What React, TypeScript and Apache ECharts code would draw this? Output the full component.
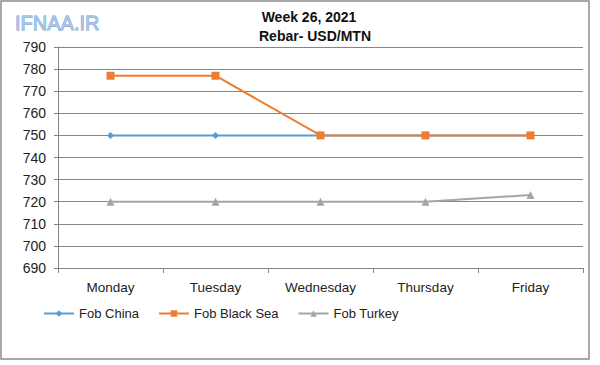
import React, { useEffect, useRef } from "react";
import * as echarts from "echarts";

const categories = ["Monday", "Tuesday", "Wednesday", "Thursday", "Friday"];
const fobChina = [750, 750, 750, 750, 750];
const fobBlackSea = [777, 777, 750, 750, 750];
const fobTurkey = [720, 720, 720, 720, 723];
const seriesNames = ["Fob China", "Fob Black Sea", "Fob Turkey"];
const titleLines = ["Week 26, 2021", "Rebar- USD/MTN"];

const FONT = "'Liberation Sans', Arial, sans-serif";

export default function App() {
  const ref = useRef<HTMLDivElement>(null);
  useEffect(() => {
    if (!ref.current) return;
    const chart = echarts.init(ref.current, null, { renderer: "svg" });
    const mk = (name: string, data: number[], color: string, symbol: string, size: number) => ({
      name,
      type: "line",
      data,
      symbol,
      symbolSize: size,
      lineStyle: { color, width: 2 },
      itemStyle: { color },
      z: 3,
    });
    chart.setOption({
      animation: false,
      backgroundColor: "#ffffff",
      textStyle: { fontFamily: FONT },
      grid: { left: 58, right: 17, top: 47, bottom: 97, containLabel: false },
      legend: {
        left: 38,
        top: 302,
        itemWidth: 30,
        itemHeight: 8,
        itemGap: 19,
        textStyle: { fontSize: 13, color: "#222", fontFamily: FONT },
        data: seriesNames,
      },
      xAxis: {
        type: "category",
        data: categories,
        boundaryGap: true,
        axisLine: { lineStyle: { color: "#868686", width: 1 } },
        axisTick: { show: true, length: 5, alignWithLabel: false, lineStyle: { color: "#868686" } },
        axisLabel: { fontSize: 13.5, color: "#222", margin: 12, fontFamily: FONT },
      },
      yAxis: {
        type: "value",
        min: 690,
        max: 790,
        interval: 10,
        axisLine: { show: true, lineStyle: { color: "#868686", width: 1 } },
        axisTick: { show: true, length: 4, lineStyle: { color: "#868686" } },
        splitLine: { show: true, lineStyle: { color: "#868686", width: 1 } },
        axisLabel: { fontSize: 14, color: "#222", margin: 12, fontFamily: FONT },
      },
      series: [
        mk(seriesNames[0], fobChina, "#5B9BD5", "diamond", 7),
        mk(seriesNames[1], fobBlackSea, "#ED7D31", "rect", 8),
        mk(seriesNames[2], fobTurkey, "#A5A5A5", "triangle", 8),
      ],
      graphic: [
        {
          type: "rect",
          shape: { x: 1, y: 1, width: 588, height: 358 },
          style: { fill: "none", stroke: "#8c8c8c", lineWidth: 1.5 },
          z: 0,
        },
        {
          type: "text",
          x: 15,
          y: 13,
          style: {
            text: "IFNAA.IR",
            font: "20px " + FONT,
            fill: "#a9c6ea",
            stroke: "#6f98cf",
            lineWidth: 0.8,
          },
          z: 10,
        },
        {
          type: "text",
          x: 309,
          y: 17,
          style: {
            text: titleLines[0],
            font: "bold 14px " + FONT,
            fill: "#111",
            align: "center",
            verticalAlign: "middle",
          },
        },
        {
          type: "text",
          x: 315,
          y: 36,
          style: {
            text: titleLines[1],
            font: "bold 14px " + FONT,
            fill: "#111",
            align: "center",
            verticalAlign: "middle",
          },
        },
      ],
    });
    return () => chart.dispose();
  }, []);
  return (
    <div
      ref={ref}
      style={{ position: "fixed", left: 0, top: 0, width: 600, height: 365, background: "#fff" }}
    />
  );
}
